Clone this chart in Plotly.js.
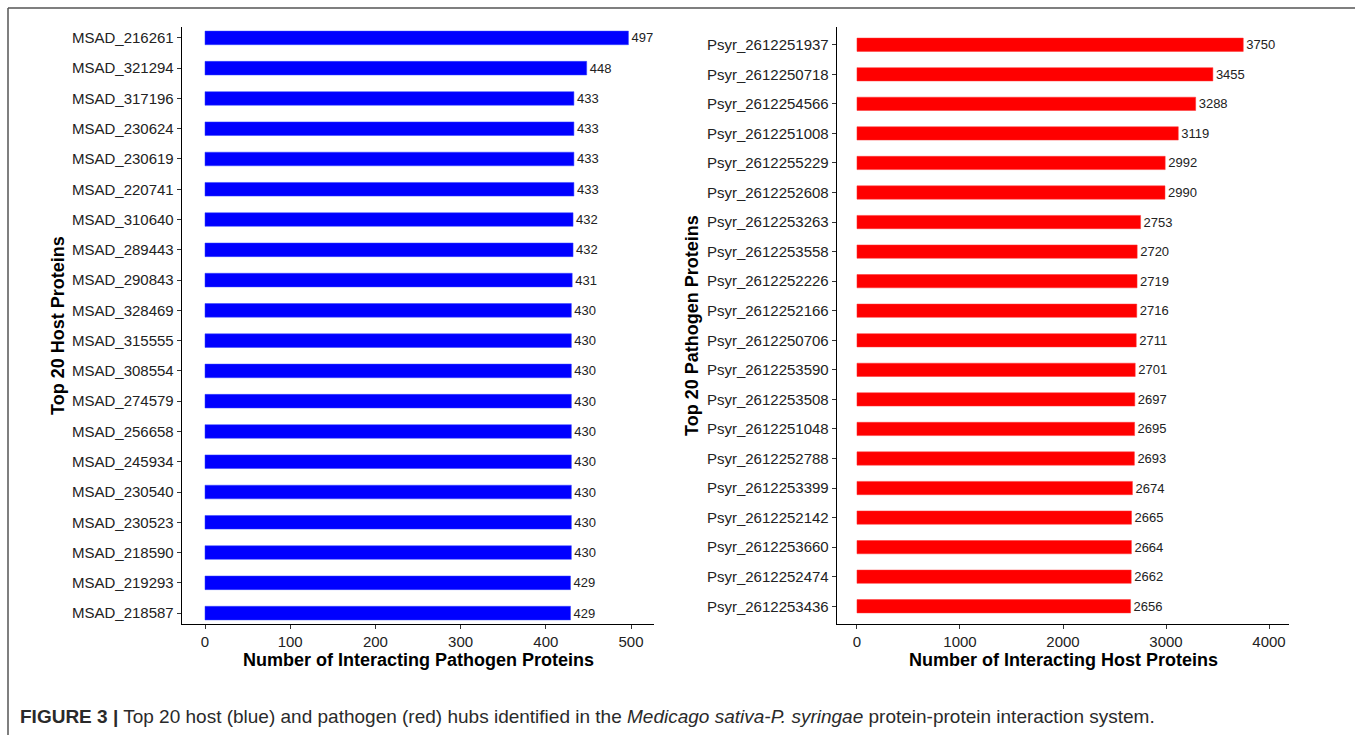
<!DOCTYPE html>
<html>
<head>
<meta charset="utf-8">
<script src="https://cdn.plot.ly/plotly-3.0.1.min.js"></script>
<style>
  html, body { margin: 0; padding: 0; background: #ffffff; }
  #chart { width: 1355px; height: 735px; }
</style>
</head>
<body>
<div id="chart"></div>
<script>
// ---- Data (top-to-bottom order as drawn) ----
const hostProteins = [
  "MSAD_216261", "MSAD_321294", "MSAD_317196", "MSAD_230624", "MSAD_230619",
  "MSAD_220741", "MSAD_310640", "MSAD_289443", "MSAD_290843", "MSAD_328469",
  "MSAD_315555", "MSAD_308554", "MSAD_274579", "MSAD_256658", "MSAD_245934",
  "MSAD_230540", "MSAD_230523", "MSAD_218590", "MSAD_219293", "MSAD_218587"
];
const hostCounts = [
  497, 448, 433, 433, 433,
  433, 432, 432, 431, 430,
  430, 430, 430, 430, 430,
  430, 430, 430, 429, 429
];
const pathogenProteins = [
  "Psyr_2612251937", "Psyr_2612250718", "Psyr_2612254566", "Psyr_2612251008", "Psyr_2612255229",
  "Psyr_2612252608", "Psyr_2612253263", "Psyr_2612253558", "Psyr_2612252226", "Psyr_2612252166",
  "Psyr_2612250706", "Psyr_2612253590", "Psyr_2612253508", "Psyr_2612251048", "Psyr_2612252788",
  "Psyr_2612253399", "Psyr_2612252142", "Psyr_2612253660", "Psyr_2612252474", "Psyr_2612253436"
];
const pathogenCounts = [
  3750, 3455, 3288, 3119, 2992,
  2990, 2753, 2720, 2719, 2716,
  2711, 2701, 2697, 2695, 2693,
  2674, 2665, 2664, 2662, 2656
];
const leftTickVals = [0, 100, 200, 300, 400, 500];
const rightTickVals = [0, 1000, 2000, 3000, 4000];

const W = 1355, H = 735;
const px = v => v / W;
const py = v => 1 - v / H;
const FONT = "Liberation Sans, Arial, Helvetica, sans-serif";

const traces = [
  {
    type: "bar", orientation: "h",
    x: hostCounts, y: hostProteins,
    xaxis: "x", yaxis: "y",
    marker: { color: "#0000ff", line: { color: "#3344ff", width: 0.5 } },
    width: 0.45,
    text: hostCounts.map(String),
    textposition: "outside",
    constraintext: "none",
    textfont: { family: FONT, size: 13, color: "#222222" },
    cliponaxis: false,
    hoverinfo: "x+y",
    showlegend: false
  },
  {
    type: "bar", orientation: "h",
    x: pathogenCounts, y: pathogenProteins,
    xaxis: "x2", yaxis: "y2",
    marker: { color: "#ff0000", line: { color: "#ff3333", width: 0.5 } },
    width: 0.45,
    text: pathogenCounts.map(String),
    textposition: "outside",
    constraintext: "none",
    textfont: { family: FONT, size: 13, color: "#222222" },
    cliponaxis: false,
    hoverinfo: "x+y",
    showlegend: false
  }
];

const axisCommon = {
  showgrid: false, zeroline: false,
  showline: true, linecolor: "#000000", linewidth: 1.3,
  ticks: "outside", ticklen: 4, tickwidth: 1, tickcolor: "#333333",
  tickfont: { family: FONT, size: 15, color: "#222222" },
  fixedrange: true
};

const layout = {
  width: W, height: H,
  margin: { l: 0, r: 0, t: 0, b: 0, pad: 0 },
  paper_bgcolor: "#ffffff",
  plot_bgcolor: "#ffffff",
  font: { family: FONT, color: "#222222" },
  bargap: 0.5,
  xaxis: Object.assign({}, axisCommon, {
    domain: [px(182), px(654)],
    range: [-27, 527],
    tickvals: leftTickVals,
    anchor: "y"
  }),
  yaxis: Object.assign({}, axisCommon, {
    domain: [py(624), py(27)],
    type: "category",
    categoryorder: "array",
    categoryarray: hostProteins,
    range: [19.36, -0.36],
    anchor: "x"
  }),
  xaxis2: Object.assign({}, axisCommon, {
    domain: [px(837), px(1289)],
    range: [-194, 4194],
    tickvals: rightTickVals,
    anchor: "y2"
  }),
  yaxis2: Object.assign({}, axisCommon, {
    domain: [py(624), py(27)],
    type: "category",
    categoryorder: "array",
    categoryarray: pathogenProteins,
    range: [19.6, -0.6],
    anchor: "x2"
  }),
  shapes: [
    { type: "line", xref: "paper", yref: "paper",
      x0: px(8), x1: 1, y0: py(8), y1: py(8),
      line: { color: "#555555", width: 1.5 } },
    { type: "line", xref: "paper", yref: "paper",
      x0: px(8), x1: px(8), y0: 0, y1: py(8),
      line: { color: "#555555", width: 1.5 } }
  ],
  annotations: [
    { xref: "paper", yref: "paper", x: px(418), y: py(660),
      xanchor: "center", yanchor: "middle", showarrow: false,
      text: "<b>Number of Interacting Pathogen Proteins</b>",
      font: { family: FONT, size: 18, color: "#000000" } },
    { xref: "paper", yref: "paper", x: px(1063), y: py(660),
      xanchor: "center", yanchor: "middle", showarrow: false,
      text: "<b>Number of Interacting Host Proteins</b>",
      font: { family: FONT, size: 18, color: "#000000" } },
    { xref: "paper", yref: "paper", x: px(58), y: py(326),
      xanchor: "center", yanchor: "middle", showarrow: false, textangle: -90,
      text: "<b>Top 20 Host Proteins</b>",
      font: { family: FONT, size: 18, color: "#000000" } },
    { xref: "paper", yref: "paper", x: px(692), y: py(326),
      xanchor: "center", yanchor: "middle", showarrow: false, textangle: -90,
      text: "<b>Top 20 Pathogen Proteins</b>",
      font: { family: FONT, size: 18, color: "#000000" } },
    { xref: "paper", yref: "paper", x: px(18), y: py(716),
      xanchor: "left", yanchor: "middle", showarrow: false,
      text: "<b>FIGURE 3 |</b> Top 20 host (blue) and pathogen (red) hubs identified in the <i>Medicago sativa-P. syringae</i> protein-protein interaction system.",
      font: { family: "Liberation Sans Narrow, Liberation Sans, Arial, sans-serif", size: 19, color: "#2a2a2a" } }
  ]
};

Plotly.newPlot("chart", traces, layout, { displayModeBar: false, staticPlot: true });
</script>
</body>
</html>
